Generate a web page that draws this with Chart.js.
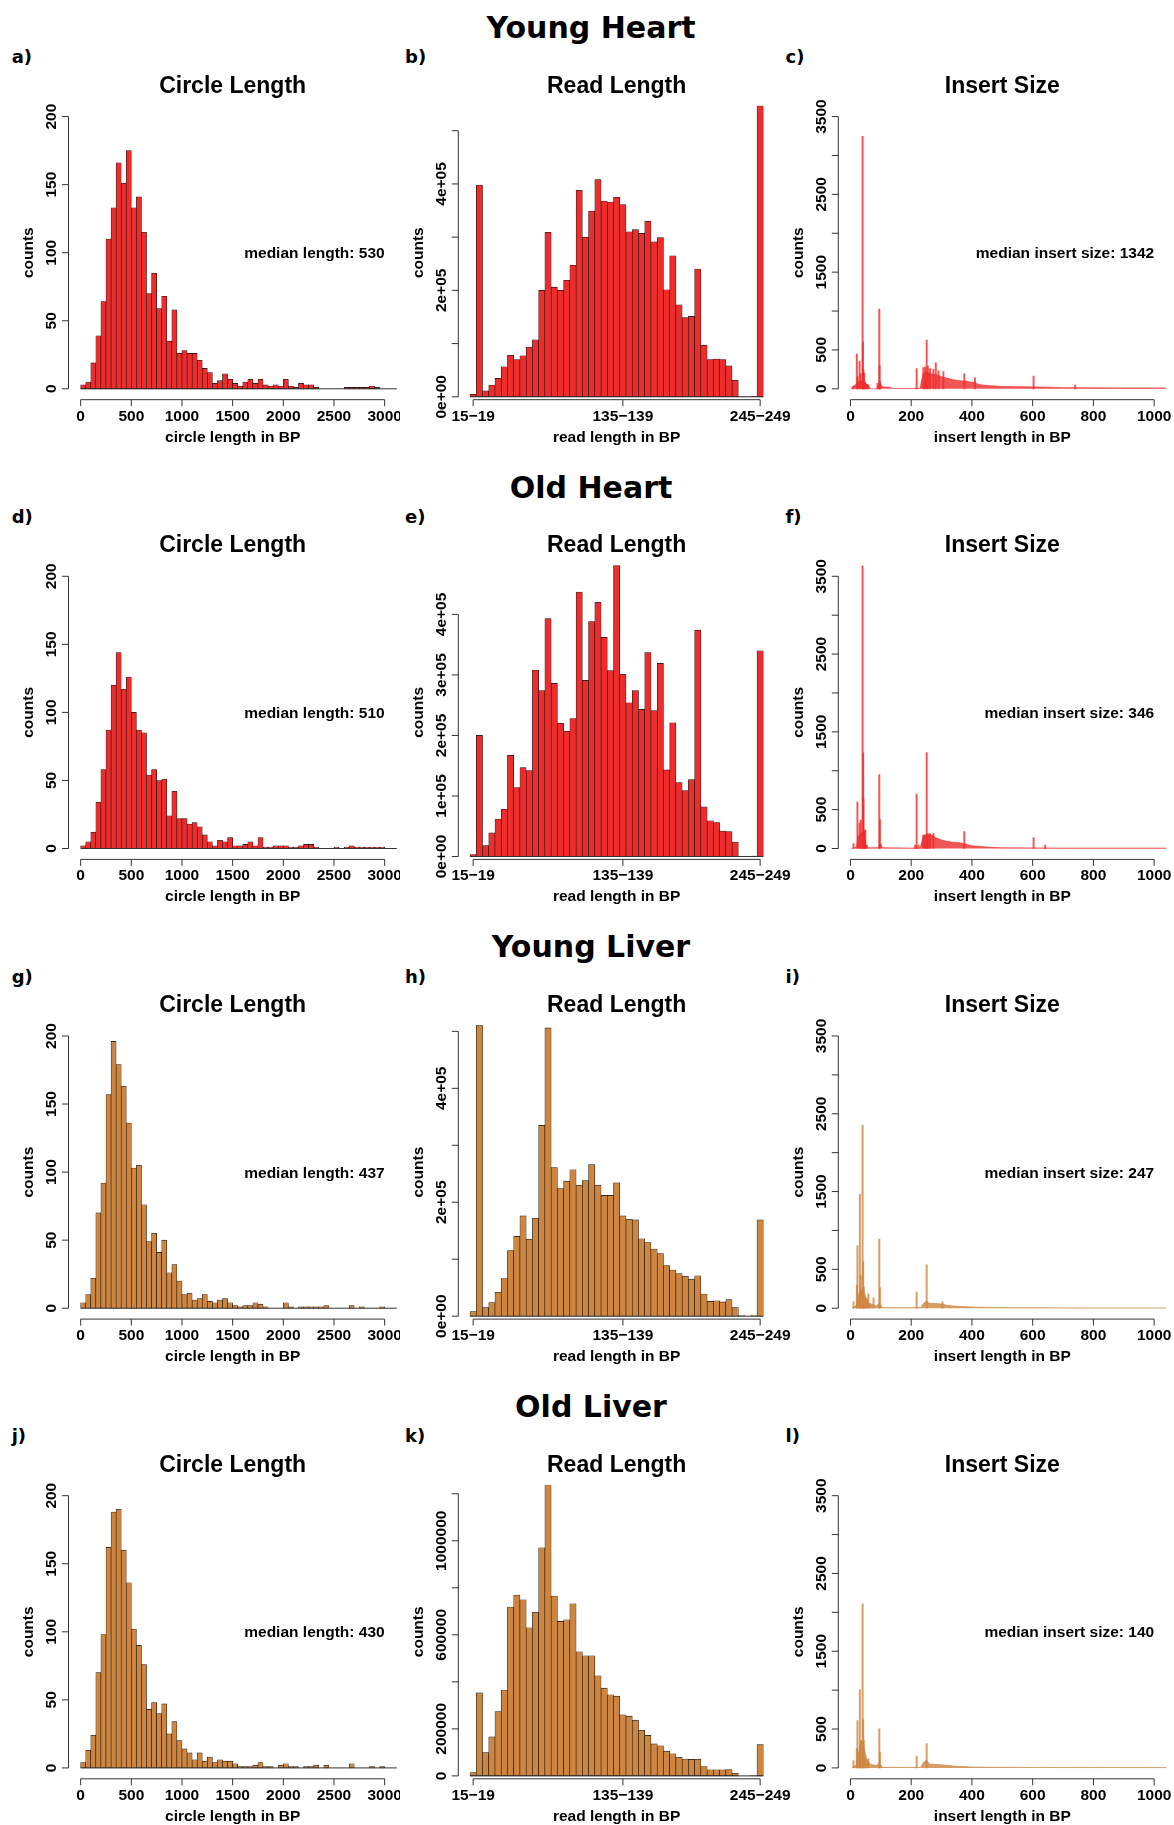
<!DOCTYPE html>
<html>
<head>
<meta charset="utf-8">
<script src="https://cdn.jsdelivr.net/npm/chart.js@4.4.0/dist/chart.umd.min.js"></script>
<style>
  body { margin: 0; background: #fff; width: 1174px; height: 1825px; position: relative; overflow: hidden; }
  canvas { position: absolute; }
  .rowtitle { position: absolute; font: bold 30px "DejaVu Sans", sans-serif; line-height: 30px; white-space: nowrap; transform: translateX(-50%); }
  .letter { position: absolute; font: bold 18px "DejaVu Sans", sans-serif; line-height: 18px; white-space: nowrap; }
</style>
</head>
<body>
<script>

const red = '#EE2C2C';
const brown = '#CD853F';
const redSoft = 'rgba(238,44,44,0.8)';
const brownSoft = 'rgba(205,133,63,0.8)';

const rowTitles = ['Young Heart', 'Old Heart', 'Young Liver', 'Old Liver'];
const panelLetters = [['a)', 'b)', 'c)'], ['d)', 'e)', 'f)'], ['g)', 'h)', 'i)'], ['j)', 'k)', 'l)']];

// circle length: 50 bp bins from 0 to 3200
const circleBinWidth = 50;
const circleYoungHeart = [3,5,19,39,64,110,133,166,151,175, 133,141,115,70,85,59,68,35,58,26, 28,26,26,21,15,12,4,6,11,7, 4,2,5,7,4,7,3,2,3,2, 7,2,1,4,3,3,1,0,0,0, 0,0,1,1,1,1,1,2,1,0, 0,0,0,0];
const circleOldHeart = [2,5,12,34,58,87,120,144,117,126, 100,87,85,54,58,50,51,24,42,22, 22,18,19,16,10,5,2,6,5,8, 2,2,3,5,2,8,1,1,2,2, 2,1,1,2,3,3,1,0,0,0, 1,0,1,2,1,1,1,1,1,1, 0,0,0,0];
const circleYoungLiver = [4,10,22,70,92,157,196,179,163,136, 103,105,76,49,55,41,50,26,32,20, 10,11,6,7,10,5,4,6,7,4, 2,1,2,2,4,3,1,0,0,0, 4,1,0,1,1,1,1,1,2,0, 0,0,0,2,0,1,0,0,0,1, 0,0,0,0];
const circleOldLiver = [4,13,24,70,98,162,188,190,160,136, 102,90,76,43,48,40,47,25,34,20, 14,11,6,11,5,8,4,6,5,5, 3,1,1,1,2,4,1,1,0,2, 3,1,1,0,1,1,2,0,2,0, 0,0,0,3,0,0,0,1,0,1, 0,0,0,0];
const circleMedians = [530, 510, 437, 430];
const circleXTicks = [0, 500, 1000, 1500, 2000, 2500, 3000];
const circleYTicks = [0, 50, 100, 150, 200];

// read length: 5 bp classes
const readBins = ['15-19','20-24','25-29','30-34','35-39','40-44','45-49','50-54','55-59','60-64',
  '65-69','70-74','75-79','80-84','85-89','90-94','95-99','100-104','105-109','110-114',
  '115-119','120-124','125-129','130-134','135-139','140-144','145-149','150-154','155-159','160-164',
  '165-169','170-174','175-179','180-184','185-189','190-194','195-199','200-204','205-209','210-214',
  '215-219','220-224','225-229','230-234','235-239','240-244','245-249'];
const readTickIdx = [0, 24, 46];
const readYoungHeart = [5000,398000,11000,22000,34500,56500,78000,70000,77000,93500,107000,200000,309000,206000,200000,219000,247000,388000,300000,349000,408000,368000,366000,375000,361000,310000,314000,307000,330000,291000,299000,201000,265000,173000,149000,151000,240000,97000,70000,71000,70000,58000,31000,500,0,1000,547000];
const readOldHeart = [3000,200000,18000,39000,62000,78000,167000,114000,147000,142000,308000,274000,393000,286000,220000,207000,228000,437000,291000,388000,420000,362000,307000,481000,301000,254000,274000,243000,337000,241000,319000,143000,221000,122000,109000,127000,374000,82000,59000,56000,42000,41000,24000,0,0,500,340000];
const readYoungLiver = [8000,511000,15000,24000,42000,66000,115000,140000,176000,135000,172000,335000,506000,261000,224000,237000,257000,230000,238000,266000,230000,212000,212000,234000,176000,170000,169000,136000,129000,118000,110000,89000,81000,75000,70000,65000,71000,39000,26000,27000,25000,29000,15000,1000,0,1000,169000];
const readOldLiver = [14000,353000,99000,166000,274000,365000,718000,769000,749000,630000,696000,970000,1238000,765000,657000,664000,732000,528000,511000,511000,426000,373000,345000,339000,260000,254000,237000,194000,172000,136000,128000,105000,94000,79000,72000,70000,71000,40000,26000,26000,26000,27000,11000,0,0,1000,133000];
const readYTicksSci = [0, 100000, 200000, 300000, 400000, 500000];
const readYLabelsSci = ['0e+00', '', '2e+05', '', '4e+05', ''];
const readYTicksOldHeart = [0, 100000, 200000, 300000, 400000];
const readYLabelsOldHeart = ['0e+00', '1e+05', '2e+05', '3e+05', '4e+05'];
const readYTicksOldLiver = [0, 200000, 400000, 600000, 800000, 1000000, 1200000];
const readYLabelsOldLiver = ['0', '200000', '', '600000', '', '1000000', ''];

// insert size: single bp peaks plus the broad bulk
const insertMedians = [1342, 346, 247, 140];
const insertXTicks = [0, 200, 400, 600, 800, 1000];
const insertYTicks = [0, 500, 1000, 1500, 2000, 2500, 3000, 3500];
const insertYLabels = ['0', '500', '', '1500', '', '2500', '', '3500'];

const insYoungHeartPeakBp = [7,10,21,24,30,34,40,41,43,45,48,52,58,89,95,96,98,218,240,246,251,255,262,273,281,290,306,375,410,603,740];
const insYoungHeartPeakN = [26,34,446,154,356,197,3247,604,240,200,70,60,50,70,1024,300,90,261,274,283,625,291,260,250,334,230,220,193,141,163,47];
const insYoungHeartBulkBp = [5,10,18,25,35,45,50,60,66,88,92,100,105,130,140,200,230,233,240,250,260,270,280,290,300,310,320,330,340,350,360,370,380,390,400,410,420,440,460,480,500,540,580,620,660,700,800,900,1000,1040];
const insYoungHeartBulkN = [0,25,60,90,100,120,70,40,0,0,40,60,25,20,5,5,10,90,200,220,200,190,185,170,155,145,135,125,115,110,105,100,100,90,85,80,60,45,40,35,30,28,25,22,20,15,13,12,12,12];

const insOldHeartPeakBp = [10,23,30,34,40,42,43,46,49,54,95,97,213,218,224,240,246,251,255,262,273,375,603,641];
const insOldHeartPeakN = [64,596,330,365,3646,1231,635,236,236,43,952,373,43,699,43,172,172,1235,193,193,193,219,142,43];
const insOldHeartBulkBp = [5,20,25,35,45,50,55,90,100,105,200,230,233,240,250,260,270,280,290,300,320,340,360,380,400,420,460,500,600,700,1040];
const insOldHeartBulkN = [0,20,150,200,220,60,10,10,60,10,5,10,60,160,180,175,170,140,125,110,90,80,75,55,35,30,15,10,8,5,5];

const insYoungLiverPeakBp = [10,21,23,30,31,34,40,42,44,48,54,59,65,76,95,97,218,251,303];
const insYoungLiverPeakN = [81,296,802,189,1463,416,2355,596,274,124,129,184,60,129,888,266,206,558,81];
const insYoungLiverBulkBp = [5,20,25,35,45,55,65,75,85,95,100,105,200,230,233,240,250,260,280,300,320,350,400,460,600,800,1040];
const insYoungLiverBulkN = [0,40,150,250,200,100,50,45,30,60,40,8,5,8,20,60,90,65,60,55,35,25,15,10,6,4,4];

const insOldLiverPeakBp = [10,21,23,30,31,34,40,42,44,48,54,59,95,97,218,251];
const insOldLiverPeakN = [94,253,609,202,1004,352,2110,618,352,116,94,116,502,202,150,313];
const insOldLiverBulkBp = [5,20,25,35,45,55,65,75,85,95,100,105,200,230,233,240,250,260,280,300,320,350,400,460,600,1040];
const insOldLiverBulkN = [0,40,170,350,250,100,50,40,30,60,40,8,4,6,20,70,100,50,45,40,30,20,12,8,5,4];

// page layout (px)
const colLeft = [0, 400, 790];
const colWidth = [400, 390, 384];
const plotX = [[68.5, 396.8], [458.3, 775.0], [838.3, 1166.3]];
const rowStep = 459.7;
const plotTop = 105.7;
const plotBottom = 399.7;
const letterLeft = [11.7, 405, 785.5];

const labelFont = 'bold 15.5px "Liberation Sans", Arial, sans-serif';
const titleFont = 'bold 23px "Liberation Sans", Arial, sans-serif';

// R style axes, titles and note drawn from the chart scales
const rAxes = {
    id: 'rAxes',
    afterDraw(chart, args, o) {
        const ctx = chart.ctx, ca = chart.chartArea;
        const xs = chart.scales.x, ys = chart.scales.y;
        ctx.save();
        ctx.strokeStyle = '#333';
        ctx.fillStyle = '#000';
        ctx.lineWidth = 1;

        // empty bins still show as a flat line
        if (o.base) {
            const y0 = ys.getPixelForValue(0);
            ctx.beginPath();
            ctx.moveTo(xs.getPixelForValue(o.base[0]), y0);
            ctx.lineTo(Math.min(xs.getPixelForValue(o.base[1]), ca.right), y0);
            ctx.stroke();
        }

        // x axis
        const xb = ca.bottom;
        const xp = o.xTicks.map(v => xs.getPixelForValue(v));
        ctx.beginPath();
        ctx.moveTo(xp[0], xb);
        ctx.lineTo(xp[xp.length - 1], xb);
        xp.forEach(p => { ctx.moveTo(p, xb); ctx.lineTo(p, xb + 6.5); });
        ctx.stroke();
        ctx.font = labelFont;
        ctx.textAlign = 'center';
        ctx.textBaseline = 'alphabetic';
        xp.forEach((p, i) => ctx.fillText(o.xLabels[i], p, xb + 21));
        ctx.fillText(o.xTitle, (ca.left + ca.right) / 2, xb + 42);

        // y axis
        const yp = o.yTicks.map(v => ys.getPixelForValue(v));
        ctx.beginPath();
        ctx.moveTo(ca.left, yp[0]);
        ctx.lineTo(ca.left, yp[yp.length - 1]);
        yp.forEach(p => { ctx.moveTo(ca.left, p); ctx.lineTo(ca.left - 6.5, p); });
        ctx.stroke();
        yp.forEach((p, i) => {
            if (!o.yLabels[i]) return;
            ctx.save();
            ctx.translate(ca.left - 12.8, p);
            ctx.rotate(-Math.PI / 2);
            ctx.fillText(o.yLabels[i], 0, 0);
            ctx.restore();
        });
        ctx.save();
        ctx.translate(ca.left - 35.2, (ca.top + ca.bottom) / 2);
        ctx.rotate(-Math.PI / 2);
        ctx.fillText('counts', 0, 0);
        ctx.restore();

        // median note
        if (o.note) {
            ctx.textAlign = 'right';
            ctx.fillText(o.note, xs.getPixelForValue(o.noteAt[0]), ys.getPixelForValue(o.noteAt[1]) + 5.5);
        }

        ctx.font = titleFont;
        ctx.textAlign = 'center';
        ctx.fillText(o.title, (ca.left + ca.right) / 2, ca.top - 13);
        ctx.restore();
    }
};
Chart.register(rAxes);

function placeCanvas(row, col) {
    const top = Math.round(row * rowStep);
    const h = Math.min(460, 1825 - top);
    const off = row * rowStep - top;
    const cv = document.createElement('canvas');
    cv.width = colWidth[col];
    cv.height = h;
    cv.style.left = colLeft[col] + 'px';
    cv.style.top = top + 'px';
    document.body.appendChild(cv);
    const pad = {
        left: plotX[col][0] - colLeft[col],
        right: colWidth[col] - (plotX[col][1] - colLeft[col]),
        top: plotTop + off,
        bottom: h - (plotBottom + off)
    };
    return { cv, pad };
}

function baseOptions(pad, xr, yr, axes) {
    return {
        responsive: false,
        animation: false,
        layout: { padding: pad },
        plugins: { legend: { display: false }, tooltip: { enabled: false }, rAxes: axes },
        scales: {
            x: { type: 'linear', display: false, offset: false, min: xr[0], max: xr[1] },
            y: { type: 'linear', display: false, min: yr[0], max: yr[1] }
        }
    };
}

function circleChart(row, values, median, color) {
    const { cv, pad } = placeCanvas(row, 0);
    new Chart(cv, {
        type: 'bar',
        data: {
            datasets: [{
                data: values.map((v, i) => ({ x: (i + 0.5) * circleBinWidth, y: v })),
                backgroundColor: color,
                borderColor: '#111',
                borderWidth: 0.6,
                borderSkipped: false,
                barPercentage: 1,
                categoryPercentage: 1
            }]
        },
        options: baseOptions(pad, [-120, 3120], [-8, 208], {
            title: 'Circle Length',
            xTitle: 'circle length in BP',
            xTicks: circleXTicks,
            xLabels: circleXTicks.map(String),
            yTicks: circleYTicks,
            yLabels: circleYTicks.map(String),
            base: [0, values.length * circleBinWidth],
            note: 'median length: ' + median,
            noteAt: [3000, 100]
        })
    });
}

function readChart(row, values, yTicks, yLabels, color) {
    const { cv, pad } = placeCanvas(row, 1);
    const top = Math.max(...values);
    new Chart(cv, {
        type: 'bar',
        data: {
            datasets: [{
                data: values.map((v, i) => ({ x: i, y: v })),
                backgroundColor: color,
                borderColor: '#111',
                borderWidth: 0.6,
                borderSkipped: false,
                barPercentage: 1,
                categoryPercentage: 1
            }]
        },
        options: baseOptions(pad, [-2.38, readBins.length + 1.38], [-0.01 * top, top], {
            title: 'Read Length',
            xTitle: 'read length in BP',
            xTicks: readTickIdx,
            xLabels: readTickIdx.map(i => readBins[i].replace('-', '\u2212')),
            yTicks: yTicks,
            yLabels: yLabels,
            base: [-0.5, readBins.length - 0.5]
        })
    });
}

function insertChart(row, peakBp, peakN, bulkBp, bulkN, median, color) {
    const { cv, pad } = placeCanvas(row, 2);
    new Chart(cv, {
        type: 'bar',
        data: {
            datasets: [{
                type: 'line',
                data: bulkBp.map((x, i) => ({ x: x, y: bulkN[i] })),
                borderColor: color,
                backgroundColor: color,
                borderWidth: 0.8,
                pointRadius: 0,
                tension: 0,
                fill: 'origin'
            }, {
                data: peakBp.map((x, i) => ({ x: x, y: peakN[i] })),
                backgroundColor: color,
                borderWidth: 0,
                barThickness: 1.3
            }]
        },
        options: baseOptions(pad, [-40, 1040], [-140, 3640], {
            title: 'Insert Size',
            xTitle: 'insert length in BP',
            xTicks: insertXTicks,
            xLabels: insertXTicks.map(String),
            yTicks: insertYTicks,
            yLabels: insertYLabels,
            note: 'median insert size: ' + median,
            noteAt: [1000, 1750]
        })
    });
}

function addText(cls, text, left, top) {
    const d = document.createElement('div');
    d.className = cls;
    d.textContent = text;
    d.style.left = left + 'px';
    d.style.top = top + 'px';
    document.body.appendChild(d);
}

rowTitles.forEach((t, r) => {
    addText('rowtitle', t, 591, r * rowStep + 13);
    panelLetters[r].forEach((l, c) => addText('letter', l, letterLeft[c], r * rowStep + 48.3));
});

circleChart(0, circleYoungHeart, circleMedians[0], red);
circleChart(1, circleOldHeart, circleMedians[1], red);
circleChart(2, circleYoungLiver, circleMedians[2], brown);
circleChart(3, circleOldLiver, circleMedians[3], brown);

readChart(0, readYoungHeart, readYTicksSci, readYLabelsSci, red);
readChart(1, readOldHeart, readYTicksOldHeart, readYLabelsOldHeart, red);
readChart(2, readYoungLiver, readYTicksSci, readYLabelsSci, brown);
readChart(3, readOldLiver, readYTicksOldLiver, readYLabelsOldLiver, brown);

insertChart(0, insYoungHeartPeakBp, insYoungHeartPeakN, insYoungHeartBulkBp, insYoungHeartBulkN, insertMedians[0], redSoft);
insertChart(1, insOldHeartPeakBp, insOldHeartPeakN, insOldHeartBulkBp, insOldHeartBulkN, insertMedians[1], redSoft);
insertChart(2, insYoungLiverPeakBp, insYoungLiverPeakN, insYoungLiverBulkBp, insYoungLiverBulkN, insertMedians[2], brownSoft);
insertChart(3, insOldLiverPeakBp, insOldLiverPeakN, insOldLiverBulkBp, insOldLiverBulkN, insertMedians[3], brownSoft);

</script>
</body>
</html>
